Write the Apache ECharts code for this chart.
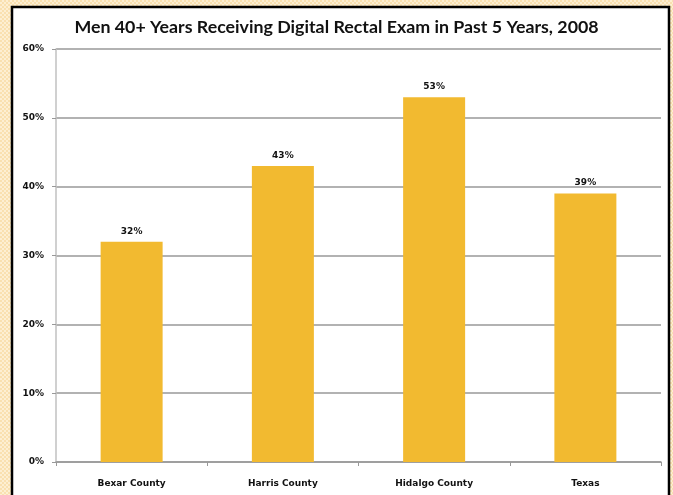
<!DOCTYPE html>
<html><head><meta charset="utf-8">
<script src="https://cdn.jsdelivr.net/npm/echarts@6/dist/echarts.min.js"></script>
<style>html,body{margin:0;padding:0;background:#fbe8c3;}#c{width:673px;height:495px;}</style>
</head><body><div id="c"></div>
<script>
const categories = ['Bexar County', 'Harris County', 'Hidalgo County', 'Texas'];
const values = [32, 43, 53, 39];
const titleText = 'Men 40+ Years Receiving Digital Rectal Exam in Past 5 Years, 2008';

// checker background
const pc = document.createElement('canvas');
pc.width = 4; pc.height = 4;
const px = pc.getContext('2d');
px.fillStyle = '#fdefd2'; px.fillRect(0,0,4,4);
px.fillStyle = '#f9e0b0'; px.fillRect(0,0,2,2); px.fillRect(2,2,2,2);

const lblFont = {fontFamily: 'DejaVu Sans', fontWeight: 'bold', fontSize: 9, color: '#111'};

const chart = echarts.init(document.getElementById('c'));
chart.setOption({
  backgroundColor: {image: pc, repeat: 'repeat'},
  animation: false,
  graphic: [{
    type: 'rect', z: -1, silent: true,
    shape: {x: 12, y: 7, width: 657, height: 500},
    style: {fill: '#ffffff', stroke: '#000000', lineWidth: 2.5}
  }],
  title: {
    text: titleText, left: 'center', top: 13,
    textStyle: {fontFamily: 'Lato', fontWeight: 'bold', fontSize: 17.8, color: '#111'}
  },
  grid: {left: 56, right: 12, top: 49, bottom: 33},
  xAxis: {
    type: 'category', data: categories,
    axisLine: {lineStyle: {color: '#999', width: 1.5}},
    axisTick: {show: true, length: 4, lineStyle: {color: '#999'}},
    axisLabel: Object.assign({margin: 17}, lblFont)
  },
  yAxis: {
    type: 'value', min: 0, max: 60, interval: 10,
    axisLine: {show: true, lineStyle: {color: '#c0c0c0', width: 1.5}},
    axisTick: {show: true, length: 4, lineStyle: {color: '#999'}},
    splitLine: {lineStyle: {color: '#999', width: 1.5}},
    axisLabel: Object.assign({formatter: '{value}%', margin: 12}, lblFont)
  },
  series: [{
    type: 'bar', data: values, barWidth: 62,
    itemStyle: {color: '#f2ba30'},
    label: Object.assign({show: true, position: 'top', formatter: '{c}%', distance: 6}, lblFont)
  }]
});
</script></body></html>
